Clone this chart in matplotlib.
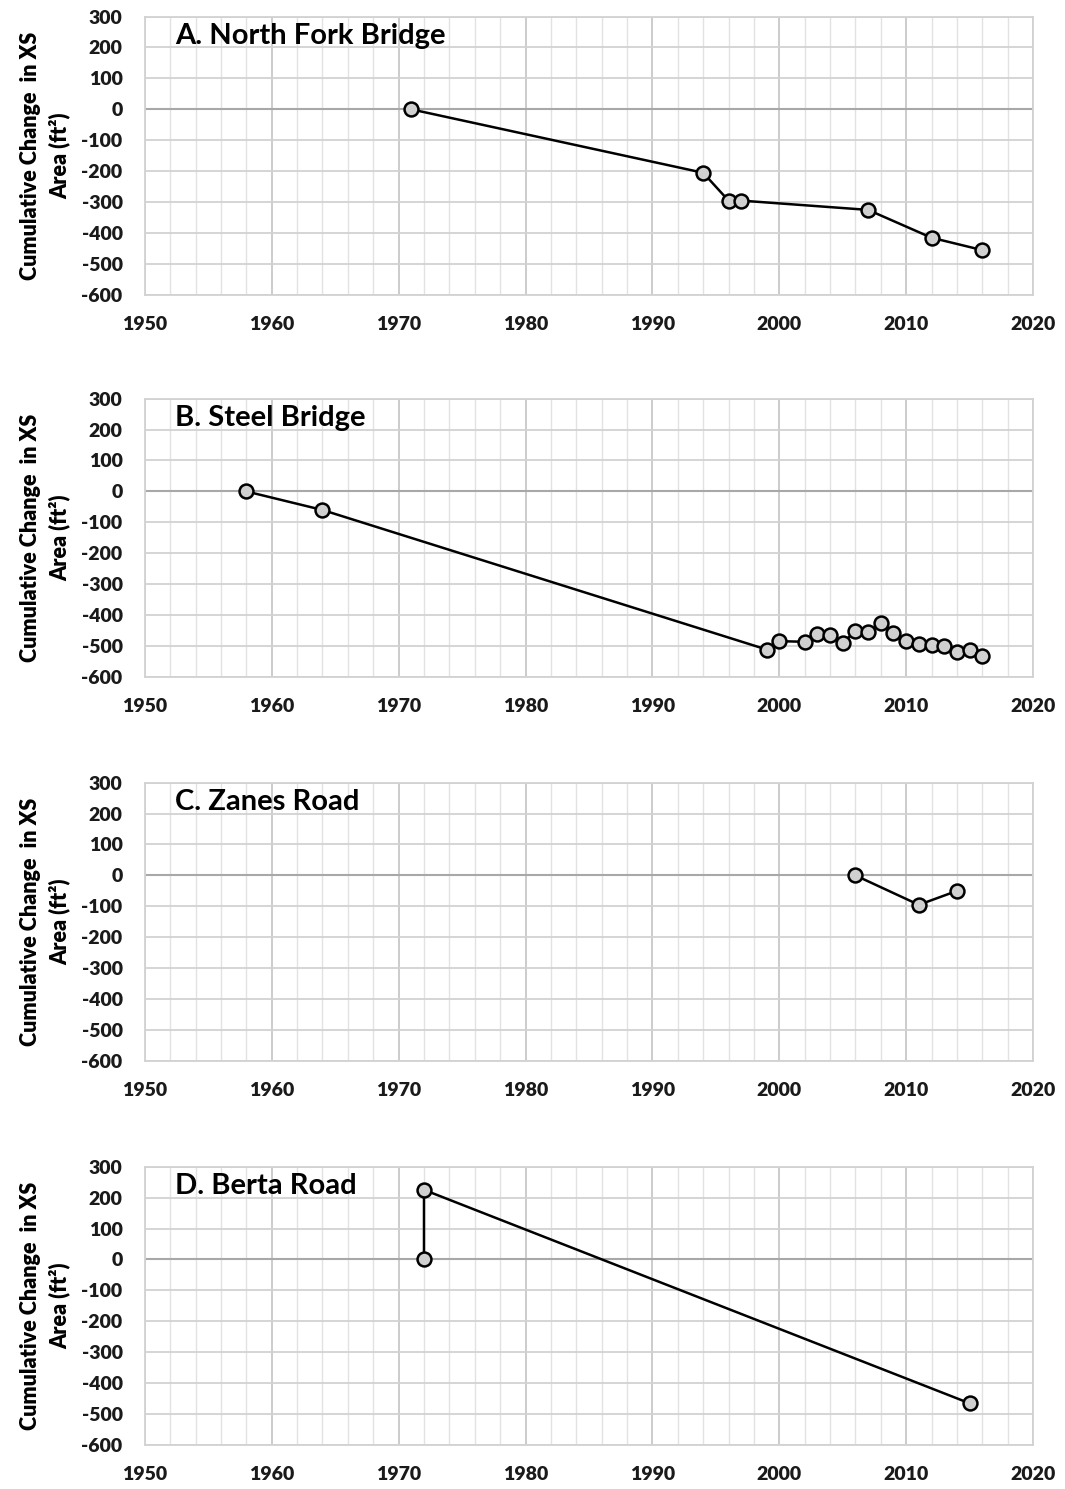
import matplotlib
matplotlib.use("Agg")
import matplotlib.pyplot as plt
from matplotlib.ticker import MultipleLocator

plt.rcParams['font.family'] = ['Lato', 'DejaVu Sans']
plt.rcParams['axes.unicode_minus'] = False

# panel titles
titles = ["A. North Fork Bridge", "B. Steel Bridge", "C. Zanes Road", "D. Berta Road"]

# A. North Fork Bridge
years_a = [1971, 1994, 1996, 1997, 2007, 2012, 2016]
change_a = [0, -205, -295, -295, -325, -415, -455]

# B. Steel Bridge
years_b = [1958, 1964, 1999, 2000, 2002, 2003, 2004, 2005, 2006, 2007, 2008,
           2009, 2010, 2011, 2012, 2013, 2014, 2015, 2016]
change_b = [0, -60, -511, -484, -486, -460, -465, -489, -452, -455, -425,
            -457, -484, -492, -497, -500, -518, -514, -532]

# C. Zanes Road
years_c = [2006, 2011, 2014]
change_c = [0, -95, -50]

# D. Berta Road
years_d = [1972, 1972, 2015]
change_d = [0, 225, -465]

panels = [(years_a, change_a), (years_b, change_b), (years_c, change_c), (years_d, change_d)]
x_ticks = [1950, 1960, 1970, 1980, 1990, 2000, 2010, 2020]
y_ticks = list(range(-600, 301, 100))

fig = plt.figure(figsize=(10.65, 14.89), dpi=100)
bottoms = [0.8019, 0.5453, 0.2874, 0.0295]

for (years, change), title, b in zip(panels, titles, bottoms):
    ax = fig.add_axes([0.136, b, 0.834, 0.187])
    ax.set_xlim(1950, 2020)
    ax.set_ylim(-600, 300)
    ax.set_xticks(x_ticks)
    ax.set_yticks(y_ticks)
    ax.xaxis.set_minor_locator(MultipleLocator(2))
    ax.grid(which='major', axis='x', color='#c8c8c8', lw=1.3)
    ax.grid(which='minor', axis='x', color='#e2e2e2', lw=1.0)
    ax.grid(which='major', axis='y', color='#d2d2d2', lw=1.3)
    ax.axhline(0, color='#a8a8a8', lw=1.5, zorder=1)
    ax.set_axisbelow(True)
    for s in ax.spines.values():
        s.set_color('#d2d2d2')
        s.set_linewidth(1.3)
    ax.tick_params(which='both', length=0)
    ax.tick_params(axis='x', pad=15, labelsize=14)
    ax.tick_params(axis='y', pad=16, labelsize=14)
    for lab in ax.get_xticklabels() + ax.get_yticklabels():
        lab.set_fontweight('heavy')
        lab.set_color('#1a1a1a')

    ax.plot(years, change, color='black', lw=1.8, marker='o', markersize=10,
            markerfacecolor='#d0d0d0', markeredgecolor='black', markeredgewidth=1.8,
            zorder=3, clip_on=False)
    ax.text(0.034, 0.93, title, transform=ax.transAxes, fontsize=21,
            fontweight='bold', va='center', ha='left', color='black')
    ax.set_ylabel("Cumulative Change  in XS\nArea (ft\u00b2)", fontsize=15.5,
                  fontweight='heavy', linespacing=1.4, labelpad=8)

fig.savefig("out.png", dpi=100)
